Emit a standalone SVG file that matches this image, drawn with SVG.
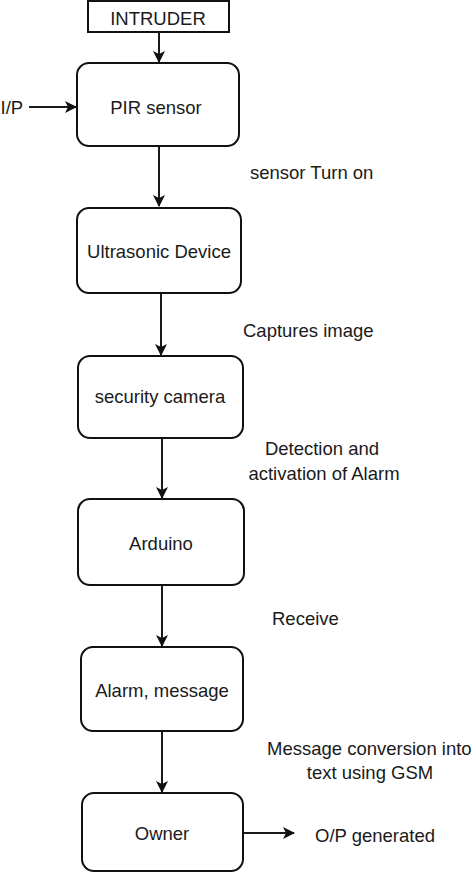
<svg xmlns="http://www.w3.org/2000/svg" width="474" height="872" viewBox="0 0 474 872">
<style>
.box{fill:#fff;stroke:#111;stroke-width:2}
.t{font-family:"Liberation Sans",Arial,sans-serif;font-size:18.5px;fill:#1a1a1a}
.c{text-anchor:middle}
.e{stroke:#1a1a1a;stroke-width:2;fill:none;marker-end:url(#ah)}
</style>
<defs>
<marker id="ah" viewBox="0 0 12 12" refX="11" refY="6" markerWidth="12" markerHeight="12" markerUnits="userSpaceOnUse" orient="auto">
<path d="M0,0 L12,6 L0,12 L3,6 Z" fill="#111"/>
</marker>
</defs>
<rect width="474" height="872" fill="#fff"/>
<g id="connectors">
<line class="e" x1="159" y1="32" x2="159" y2="62"/>
<line class="e" x1="29" y1="107" x2="76" y2="107"/>
<line class="e" x1="159" y1="146" x2="159" y2="206"/>
<line class="e" x1="161" y1="293" x2="161" y2="355"/>
<line class="e" x1="162" y1="438" x2="162" y2="498"/>
<line class="e" x1="162" y1="585" x2="162" y2="646"/>
<line class="e" x1="162" y1="731" x2="162" y2="792"/>
<line class="e" x1="243" y1="833" x2="294" y2="833"/>
</g>
<g id="intruder"><rect class="box" x="88" y="1" width="141" height="31"/><text class="t c" x="158" y="25">INTRUDER</text></g>
<g id="ip"><text class="t" x="0.5" y="114">I/P</text></g>
<g id="pir"><rect class="box" x="77" y="63" width="162" height="83" rx="12"/><text class="t c" x="156" y="114">PIR sensor</text></g>
<g id="lbl1"><text class="t" x="250" y="179">sensor Turn on</text></g>
<g id="ultrasonic"><rect class="box" x="77" y="208" width="164" height="85" rx="12"/><text class="t c" x="159" y="258">Ultrasonic Device</text></g>
<g id="lbl2"><text class="t" x="243" y="337">Captures image</text></g>
<g id="camera"><rect class="box" x="78" y="356" width="165" height="82" rx="12"/><text class="t c" x="160" y="403">security camera</text></g>
<g id="lbl3"><text class="t c" x="322" y="455">Detection and</text><text class="t c" x="324" y="480">activation of Alarm</text></g>
<g id="arduino"><rect class="box" x="78" y="499" width="166" height="86" rx="12"/><text class="t c" x="161" y="550">Arduino</text></g>
<g id="lbl4"><text class="t" x="272" y="625">Receive</text></g>
<g id="alarm"><rect class="box" x="81" y="647" width="162" height="84" rx="12"/><text class="t c" x="162" y="697">Alarm, message</text></g>
<g id="lbl5"><text class="t" x="267" y="755">Message conversion into</text><text class="t c" x="370" y="779">text using GSM</text></g>
<g id="owner"><rect class="box" x="82" y="793" width="161" height="78" rx="12"/><text class="t c" x="162" y="840">Owner</text></g>
<g id="op"><text class="t" x="315" y="842">O/P generated</text></g>
</svg>
